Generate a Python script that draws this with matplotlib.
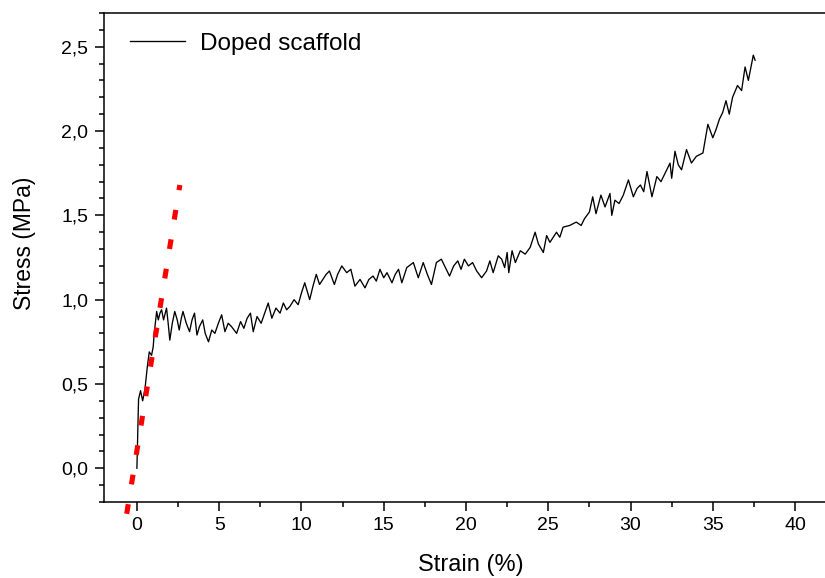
import numpy as np
import matplotlib
matplotlib.use("Agg")
import matplotlib.pyplot as plt
from matplotlib.ticker import MultipleLocator, FuncFormatter

plt.rcParams['font.family'] = ['Liberation Sans', 'DejaVu Sans']

# stress-strain curve
strain = [
    0.00, 0.05, 0.10, 0.22, 0.35, 0.49, 0.63, 0.75, 0.89, 0.99,
    1.05, 1.20, 1.30, 1.40, 1.50, 1.62, 1.80, 1.90, 2.00, 2.15,
    2.30, 2.45, 2.57, 2.70, 2.80, 3.00, 3.20, 3.35, 3.50, 3.65,
    3.80, 4.00, 4.15, 4.35, 4.55, 4.74, 4.95, 5.15, 5.35, 5.55,
    5.75, 6.06, 6.30, 6.50, 6.70, 6.90, 7.07, 7.30, 7.55, 7.80,
    7.98, 8.20, 8.45, 8.70, 8.90, 9.10, 9.30, 9.55, 9.80, 10.00,
    10.20, 10.50, 10.70, 10.90, 11.10, 11.30, 11.50, 11.70, 12.00, 12.20,
    12.45, 12.75, 13.00, 13.25, 13.56, 13.86, 14.10, 14.35, 14.55, 14.77,
    15.00, 15.20, 15.50, 15.70, 15.90, 16.10, 16.40, 16.80, 17.10, 17.40,
    17.65, 17.90, 18.20, 18.50, 18.75, 19.00, 19.25, 19.50, 19.70, 19.90,
    20.15, 20.40, 20.65, 20.95, 21.25, 21.45, 21.65, 21.96, 22.17, 22.35,
    22.50, 22.60, 22.80, 23.00, 23.30, 23.60, 23.90, 24.20, 24.40, 24.70,
    24.90, 25.10, 25.50, 25.70, 25.90, 26.30, 26.50, 26.70, 27.00, 27.20,
    27.50, 27.70, 27.90, 28.20, 28.45, 28.75, 28.86, 29.05, 29.30, 29.56,
    29.87, 30.17, 30.40, 30.60, 30.80, 31.00, 31.30, 31.60, 31.85, 32.10,
    32.40, 32.50, 32.70, 32.90, 33.10, 33.40, 33.70, 34.00, 34.40, 34.70,
    35.00, 35.20, 35.40, 35.60, 35.80, 36.00, 36.20, 36.50, 36.75, 36.96,
    37.16, 37.46, 37.57,
]
stress = [
    0.00, 0.20, 0.41, 0.46, 0.40, 0.47, 0.60, 0.69, 0.67, 0.72,
    0.80, 0.93, 0.88, 0.92, 0.94, 0.88, 0.95, 0.86, 0.76, 0.86,
    0.93, 0.88, 0.82, 0.89, 0.93, 0.86, 0.81, 0.88, 0.92, 0.79,
    0.84, 0.88, 0.80, 0.75, 0.82, 0.80, 0.86, 0.91, 0.81, 0.86,
    0.84, 0.80, 0.87, 0.83, 0.89, 0.92, 0.81, 0.90, 0.86, 0.93,
    0.98, 0.89, 0.95, 0.92, 0.98, 0.94, 0.96, 1.00, 0.97, 1.04,
    1.10, 1.00, 1.08, 1.15, 1.09, 1.12, 1.15, 1.17, 1.09, 1.15,
    1.20, 1.16, 1.18, 1.08, 1.12, 1.07, 1.12, 1.14, 1.11, 1.18,
    1.13, 1.16, 1.10, 1.15, 1.18, 1.10, 1.19, 1.22, 1.13, 1.22,
    1.15, 1.09, 1.22, 1.24, 1.19, 1.14, 1.20, 1.23, 1.18, 1.24,
    1.20, 1.22, 1.17, 1.13, 1.17, 1.23, 1.16, 1.26, 1.24, 1.19,
    1.28, 1.16, 1.29, 1.22, 1.29, 1.27, 1.31, 1.40, 1.33, 1.28,
    1.38, 1.34, 1.40, 1.37, 1.43, 1.44, 1.45, 1.46, 1.44, 1.48,
    1.52, 1.61, 1.51, 1.62, 1.55, 1.63, 1.50, 1.59, 1.57, 1.62,
    1.71, 1.61, 1.66, 1.68, 1.64, 1.76, 1.61, 1.73, 1.70, 1.75,
    1.81, 1.72, 1.88, 1.80, 1.77, 1.89, 1.81, 1.85, 1.87, 2.04,
    1.96, 2.01, 2.07, 2.11, 2.18, 2.10, 2.20, 2.27, 2.24, 2.38,
    2.30, 2.45, 2.42,
]

# linear fit of the elastic region (red dotted)
fit_strain = [-0.62, 2.61]
fit_stress = [-0.27, 1.68]

fig = plt.figure(figsize=(8.25, 5.78), dpi=100)
ax = fig.add_axes([104 / 825, 76 / 578, 724 / 825, 489 / 578])

ax.plot(strain, stress, color="black", lw=0.95, label="Doped scaffold")
ax.plot(fit_strain, fit_stress, color="red", lw=3.7,
        linestyle=(0, (1.9, 3.9)), dash_capstyle="butt", clip_on=False)

ax.set_xlim(-2, 42)
ax.set_ylim(-0.2, 2.7)

ax.xaxis.set_major_locator(MultipleLocator(5))
ax.xaxis.set_minor_locator(MultipleLocator(2.5))
ax.yaxis.set_major_locator(MultipleLocator(0.5))
ax.yaxis.set_minor_locator(MultipleLocator(0.1))
ax.yaxis.set_major_formatter(FuncFormatter(lambda v, p: f"{v:.1f}".replace(".", ",")))
ax.xaxis.set_major_formatter(FuncFormatter(lambda v, p: f"{v:.0f}"))

ax.tick_params(which="major", direction="out", length=6.5, width=1.1,
               labelsize=14, pad=4)
ax.tick_params(which="minor", direction="out", length=3.6, width=1.1)
ax.tick_params(axis="y", which="major", pad=5)
ax.tick_params(top=False, right=False)
for s in ax.spines.values():
    s.set_linewidth(1.1)

ax.set_xlabel("Strain (%)", fontsize=17)
ax.set_ylabel("Stress (MPa)", fontsize=16.5)
ax.xaxis.set_label_coords(0.507, -0.107)
ax.yaxis.set_label_coords(-0.094, 0.53)

ax.legend(loc="upper left", bbox_to_anchor=(0.036, 0.960), frameon=False,
          fontsize=17.5, handlelength=2.26, handletextpad=0.6,
          borderpad=0, borderaxespad=0)

fig.savefig("out.png", dpi=100)
